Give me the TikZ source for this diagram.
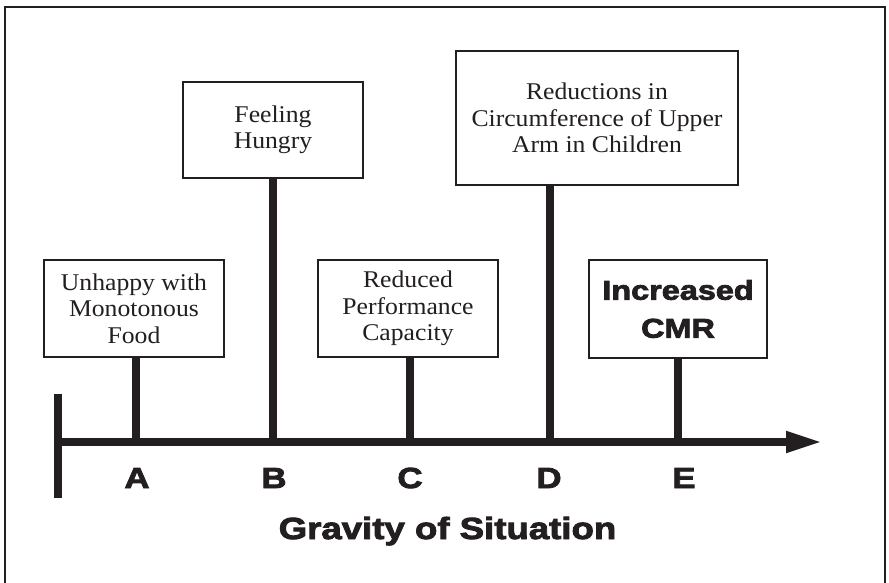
\documentclass[tikz,border=0pt]{standalone}
\usepackage{fontspec}
\setmainfont{Liberation Serif}[FakeStretch=1.07]
\newfontfamily\heavyfont{Liberation Sans Bold}[FakeStretch=1.2,FakeBold=3]
\usetikzlibrary{arrows.meta}
\definecolor{ink}{RGB}{35,31,32}
\tikzset{
  event/.style={draw=ink, line width=1.5pt, fill=white, align=center, inner sep=0pt,
    minimum width=180pt, minimum height=97pt, text=ink,
    font=\fontsize{24}{26.5}\selectfont},
  stem/.style={draw=ink, line width=7.5pt},
  tick/.style={anchor=base, text=ink, font=\heavyfont\fontsize{29}{30}\selectfont}
}
\begin{document}
\begin{tikzpicture}[x=1pt,y=-1pt]
  \useasboundingbox (0,0) rectangle (889,583);
  % frame
  \draw[ink, line width=2.5pt] (5,583) -- (5,7) -- (885,7) -- (885,583);

  % points on the axis
  \coordinate (start) at (58,442);
  \coordinate (tip) at (822,442);
  \coordinate (pA) at (136,442);
  \coordinate (pB) at (273,442);
  \coordinate (pC) at (410,442);
  \coordinate (pD) at (550,442);
  \coordinate (pE) at (678,442);

  % events
  \node[event] (a) at (134,308.5) {Unhappy with\\Monotonous\\Food};
  \node[event, minimum height=96pt] (b) at (273,130) {Feeling\\Hungry};
  \node[event] (c) at (408,308.5) {Reduced\\Performance\\Capacity};
  \node[event, minimum width=282pt, minimum height=134pt] (d) at (597,118)
    {Reductions in\\Circumference of Upper\\Arm in Children};
  \node[event, minimum width=178pt, minimum height=98pt,
    font=\heavyfont\fontsize{27}{38}\selectfont] (e) at (678,309) {Increased\\CMR};

  % stems
  \draw[stem] (pA) -- (pA |- a.south);
  \draw[stem] (pB) -- (pB |- b.south);
  \draw[stem] (pC) -- (pC |- c.south);
  \draw[stem] (pD) -- (pD |- d.south);
  \draw[stem] (pE) -- (pE |- e.south);

  % axis
  \draw[stem] ([yshift=48pt]start) -- ([yshift=-56pt]start);
  \draw[stem, -{Triangle[length=36pt,width=20pt]}] ([xshift=-3.75pt]start) -- (tip);

  % labels
  \node[tick] (la) at (137,488) {A};
  \node[tick] (lb) at (274,488) {B};
  \node[tick] (lc) at (410,488) {C};
  \node[tick] (ld) at (549,488) {D};
  \node[tick] (le) at (684,488) {E};
  \node[tick, font=\heavyfont\fontsize{30.5}{32}\selectfont] (title) at (447.5,539)
    {Gravity of Situation};
\end{tikzpicture}
\end{document}
